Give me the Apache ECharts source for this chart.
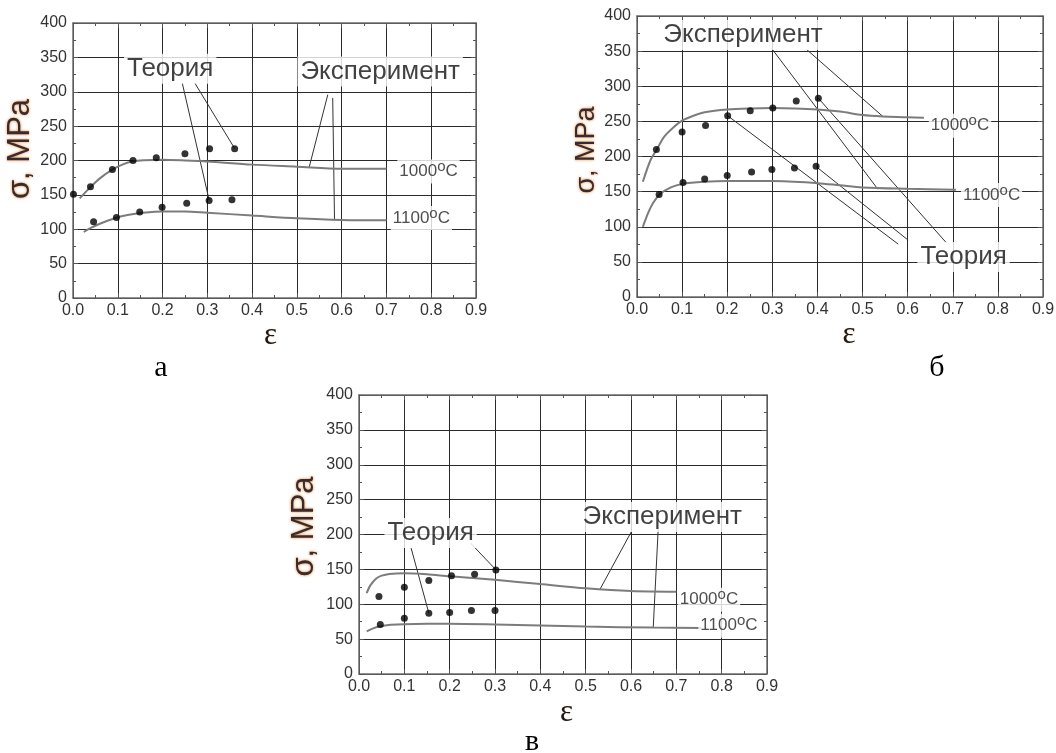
<!DOCTYPE html>
<html>
<head>
<meta charset="utf-8">
<script src="https://cdn.jsdelivr.net/npm/echarts@6/dist/echarts.min.js"></script>
<style>
  html, body { margin: 0; background: #fff; }
  #chart { width: 1056px; height: 753px; }
</style>
</head>
<body>
<div id="chart"></div>
<script>
// axes: strain ε and stress σ (MPa)
const epsRange = [0, 0.9];
const epsStep = 0.1;
const sigmaRange = [0, 400];
const sigmaStep = 50;

// panel а — experiment curves [ε, σ]
const expA1000 = [[0.015, 145], [0.04, 162], [0.06, 174], [0.086, 186], [0.11, 194], [0.134, 199], [0.16, 200.5], [0.2, 201], [0.25, 200], [0.3, 198.5], [0.4, 194], [0.5, 191], [0.6, 188], [0.7, 188]];
const expA1100 = [[0.024, 96], [0.04, 102], [0.06, 108], [0.08, 113], [0.1, 117.5], [0.125, 121], [0.15, 123.5], [0.2, 126], [0.25, 126], [0.3, 124], [0.4, 120], [0.5, 116], [0.6, 113.5], [0.7, 113]];
// panel а — theory points
const dotsA1000 = [[0.001, 151], [0.039, 162], [0.088, 187], [0.134, 200], [0.186, 204], [0.25, 210], [0.305, 217], [0.361, 217]];
const dotsA1100 = [[0.046, 111], [0.097, 117], [0.149, 125], [0.199, 132], [0.254, 138], [0.304, 142], [0.355, 143]];

// panel б
const expB1000 = [[0.013, 164], [0.03, 195], [0.043, 209], [0.06, 228], [0.08, 241], [0.1, 251], [0.125, 258], [0.15, 263], [0.2, 267], [0.25, 268.5], [0.3, 269], [0.35, 268.5], [0.4, 267], [0.45, 264], [0.5, 259], [0.545, 257], [0.6, 256], [0.636, 255]];
const expB1100 = [[0.013, 100], [0.025, 120], [0.035, 133], [0.05, 146], [0.075, 156], [0.1, 161], [0.15, 164], [0.2, 165], [0.3, 165], [0.4, 162], [0.45, 159], [0.5, 156], [0.6, 154], [0.707, 152.5]];
const dotsB1000 = [[0.043, 210], [0.1, 235], [0.152, 244], [0.201, 258], [0.251, 265], [0.301, 269], [0.353, 279], [0.402, 283]];
const dotsB1100 = [[0.049, 146], [0.102, 163], [0.15, 168], [0.2, 173], [0.254, 178], [0.299, 181.5], [0.349, 183.5], [0.397, 186]];

// panel в
const expC1000 = [[0.017, 116], [0.025, 127], [0.038, 137], [0.05, 141], [0.067, 143.5], [0.1, 144.5], [0.15, 143], [0.2, 140], [0.3, 135], [0.4, 129], [0.5, 123], [0.6, 119], [0.7, 118]];
const expC1100 = [[0.017, 61], [0.03, 65], [0.045, 68], [0.07, 70.5], [0.1, 71.5], [0.2, 72], [0.3, 71], [0.4, 69.5], [0.5, 68], [0.65, 66.5], [0.755, 66]];
const dotsC1000 = [[0.044, 111], [0.1, 124.5], [0.154, 134], [0.204, 141], [0.255, 143], [0.302, 149]];
const dotsC1100 = [[0.047, 71], [0.1, 80], [0.154, 87], [0.2, 88], [0.248, 91], [0.3, 91]];

// leader lines from the captions, in data units
const leadersA = [
  [[0.244, 312.7], [0.304, 142.5]], [[0.272, 312.7], [0.361, 217.5]],
  [[0.569, 295.7], [0.527, 189]], [[0.58, 291], [0.584, 114]]
];
const leadersB = [
  [[0.299, 353.4], [0.534, 153.4]], [[0.376, 352.4], [0.545, 257]],
  [[0.201, 258], [0.579, 75.3]], [[0.397, 185.7], [0.601, 81]], [[0.402, 283], [0.686, 77]]
];
const leadersC = [
  [[0.115, 180.5], [0.154, 87.4]], [[0.246, 187.7], [0.302, 149.4]],
  [[0.601, 204.3], [0.531, 120.8]], [[0.66, 207.7], [0.649, 65.9]]
];

// captions: [text, ε, σ]
const wordsA = [['Теория', 0.217, 333.5], ['Эксперимент', 0.686, 329.6]];
const tempsA = [['1000°C', 0.794, 184], ['1100°C', 0.778, 116.4]];
const wordsB = [['Эксперимент', 0.235, 372.9], ['Теория', 0.724, 57]];
const tempsB = [['1000°C', 0.716, 243.9], ['1100°C', 0.786, 145.3]];
const wordsC = [['Теория', 0.158, 202], ['Эксперимент', 0.669, 225]];
const tempsC = [['1000°C', 0.772, 106.5], ['1100°C', 0.816, 69.2]];

const panelNames = ['а', 'б', 'в'];
const epsName = 'ε';
const sigmaName = 'σ, MPa';

const panels = [
  { grid: { left: 73, top: 23, width: 403, height: 275 }, exp: [expA1000, expA1100], dots: [dotsA1000, dotsA1100],
    leaders: leadersA, words: wordsA, temps: tempsA,
    sigmaFont: 31, sigmaGap: 33, sigmaPad: [0, 0, 0, 23], epsGap: 22, epsPad: [0, 8, 0, 0], tag: [161, 368] },
  { grid: { left: 637, top: 16, width: 406, height: 281 }, exp: [expB1000, expB1100], dots: [dotsB1000, dotsB1100],
    leaders: leadersB, words: wordsB, temps: tempsB,
    sigmaFont: 27, sigmaGap: 33, sigmaPad: [0, 0, 0, 13], epsGap: 19, epsPad: [0, 0, 0, 18], tag: [937, 368] },
  { grid: { left: 359, top: 395, width: 408, height: 279 }, exp: [expC1000, expC1100], dots: [dotsC1000, dotsC1100],
    leaders: leadersC, words: wordsC, temps: tempsC,
    sigmaFont: 31, sigmaGap: 39, sigmaPad: [0, 0, 0, 16], epsGap: 23, epsPad: [0, 0, 0, 7], tag: [532, 742] }
];

const font = 'Liberation Sans';
const serif = 'Liberation Serif';
const frameStyle = { color: '#6e6e6e', width: 1.5 };
const tickStyle = { color: '#555', width: 1 };
const gridLine = { color: '#2a2a2a', width: 1 };

const option = { animation: false, backgroundColor: '#fff', grid: [], xAxis: [], yAxis: [], series: [], graphic: [] };

const baseAxis = (i, pos) => ({
  gridIndex: i, type: 'value', position: pos,
  axisLine: { show: true, onZero: false, lineStyle: frameStyle },
  axisTick: { show: true, inside: true, length: 5, lineStyle: tickStyle },
  minorTick: { show: true, splitNumber: 2, length: 3, lineStyle: tickStyle },
  splitLine: { show: false },
  axisLabel: { show: false },
  silent: true
});

panels.forEach((p, i) => {
  option.grid.push(Object.assign({ outerBoundsMode: 'none' }, p.grid));
  option.xAxis.push(Object.assign(baseAxis(i, 'bottom'), {
    min: epsRange[0], max: epsRange[1], interval: epsStep,
    splitLine: { show: true, lineStyle: gridLine },
    axisLabel: { show: true, margin: 5, color: '#333', fontFamily: font, fontSize: 16,
      showMinLabel: true, showMaxLabel: true, formatter: v => v.toFixed(1) },
    name: epsName, nameLocation: 'middle', nameGap: p.epsGap,
    nameTextStyle: { fontFamily: serif, fontSize: 31, color: '#1a1a1a', padding: p.epsPad,
      textShadowColor: 'rgba(210,130,50,0.6)', textShadowBlur: 1 }
  }));
  option.yAxis.push(Object.assign(baseAxis(i, 'left'), {
    min: sigmaRange[0], max: sigmaRange[1], interval: sigmaStep,
    splitLine: { show: true, lineStyle: gridLine },
    axisLabel: { show: true, margin: 6, color: '#333', fontFamily: font, fontSize: 16,
      showMinLabel: true, showMaxLabel: true },
    name: sigmaName, nameLocation: 'middle', nameGap: p.sigmaGap, nameRotate: 90,
    nameTextStyle: { fontFamily: font, fontSize: p.sigmaFont, color: '#3a2a30', padding: p.sigmaPad,
      textShadowColor: 'rgba(222,132,40,1)', textShadowBlur: 3 }
  }));
});
// frame ticks on top and right
panels.forEach((p, i) => {
  option.xAxis.push(Object.assign(baseAxis(i, 'top'), { min: epsRange[0], max: epsRange[1], interval: epsStep }));
  option.yAxis.push(Object.assign(baseAxis(i, 'right'), { min: sigmaRange[0], max: sigmaRange[1], interval: sigmaStep }));
});

panels.forEach((p, i) => {
  const ax = { xAxisIndex: i, yAxisIndex: i, silent: true, emphasis: { disabled: true } };
  p.leaders.forEach(seg => {
    option.series.push(Object.assign({ type: 'line', data: seg, symbol: 'none', z: 2,
      lineStyle: { color: '#333', width: 1 } }, ax));
  });
  p.exp.forEach(curve => {
    option.series.push(Object.assign({ type: 'line', data: curve, symbol: 'none', smooth: 0.3,
      z: 3, lineStyle: { color: '#7c7c7c', width: 2 } }, ax));
  });
  p.dots.forEach(pts => {
    option.series.push(Object.assign({ type: 'scatter', data: pts, symbolSize: 7, clip: false, z: 4,
      itemStyle: { color: '#000' } }, ax));
  });
  option.series.push(Object.assign({
    type: 'scatter', z: 5, symbolSize: 1, itemStyle: { color: 'rgba(0,0,0,0)' },
    data: p.words.map(w => ({ name: w[0], value: [w[1], w[2]] })),
    label: { show: true, position: 'inside', formatter: '{b}', color: '#111', fontFamily: font,
      fontSize: 26, backgroundColor: '#fff', padding: [2, 3] }
  }, ax));
  option.series.push(Object.assign({
    type: 'scatter', z: 5, symbolSize: 1, itemStyle: { color: 'rgba(0,0,0,0)' },
    data: p.temps.map(w => ({ name: w[0], value: [w[1], w[2]] })),
    label: { show: true, position: 'inside', formatter: d => d.name.replace('°', '{o|o}'),
      color: '#222', fontFamily: font, fontSize: 17, lineHeight: 24, backgroundColor: '#fff', padding: [0, 2],
      rich: { o: { fontFamily: font, fontSize: 15, lineHeight: 9, verticalAlign: 'top', color: '#222' } } }
  }, ax));
  option.graphic.push({
    type: 'text', x: p.tag[0], y: p.tag[1], silent: true,
    style: { text: panelNames[i], font: '30px "' + serif + '"', fill: '#000',
      align: 'center', verticalAlign: 'middle', textAlign: 'center', textVerticalAlign: 'middle' }
  });
});

const chart = echarts.init(document.getElementById('chart'));
chart.setOption(option);
window.addEventListener('resize', () => chart.resize());
</script>
</body>
</html>
